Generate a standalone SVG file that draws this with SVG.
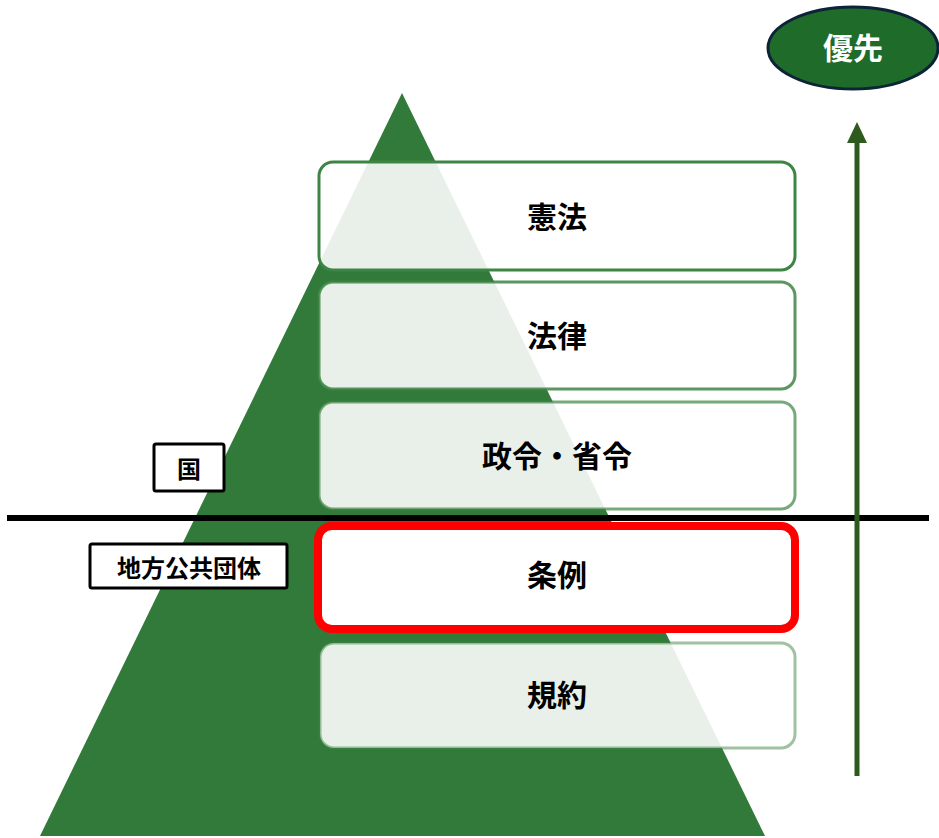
<svg xmlns="http://www.w3.org/2000/svg" width="939" height="838" viewBox="0 0 939 838">
<style>
.lbl{font-family:"Noto Sans CJK JP","Liberation Sans",sans-serif;font-weight:bold;font-size:30px;fill:#000;text-anchor:middle;dominant-baseline:central}
.small{font-family:"Noto Sans CJK JP","Liberation Sans",sans-serif;font-weight:bold;font-size:24px;fill:#000;text-anchor:middle;dominant-baseline:central}
.box{fill:#ffffff;fill-opacity:0.89;stroke:#3e8545;stroke-width:3}
.tag{fill:#fff;stroke:#000;stroke-width:3}
</style>
<rect width="939" height="838" fill="#fff"/>
<g id="pyramid"><polygon points="402,93 40,836 765,836" fill="#317a39"/></g>
<g id="n-kenpo"><rect class="box" x="319" y="162" width="476" height="108" rx="14" stroke-opacity="1"/><text class="lbl" x="557" y="215">憲法</text></g>
<g id="n-horitsu"><rect class="box" x="319" y="282" width="476" height="107" rx="14" stroke-opacity="0.85"/><text class="lbl" x="557" y="334">法律</text></g>
<g id="n-seirei"><rect class="box" x="319" y="402" width="476" height="107" rx="14" stroke-opacity="0.7"/><text class="lbl" x="557" y="454">政令・省令</text></g>
<g id="n-jorei"><rect x="318" y="526" width="477" height="103" rx="14" fill="#fff" stroke="#ff0000" stroke-width="8"/><text class="lbl" x="557" y="573">条例</text></g>
<g id="n-kiyaku"><rect class="box" x="320" y="643" width="475" height="105" rx="14" stroke-opacity="0.5"/><text class="lbl" x="557" y="693">規約</text></g>
<g id="connectors">
<line x1="7" y1="518" x2="929" y2="518" stroke="#000" stroke-width="6"/>
<line x1="857" y1="776" x2="857" y2="140" stroke="#2e5a1e" stroke-width="5"/>
<polygon points="857,122 847,143 867,143" fill="#2e5a1e"/>
</g>
<g id="n-kuni"><rect class="tag" x="154" y="444" width="70" height="47" rx="2"/><text class="small" x="189" y="467">国</text></g>
<g id="n-chiho"><rect class="tag" x="90" y="544" width="197" height="44" rx="2"/><text class="small" x="189" y="566">地方公共団体</text></g>
<g id="n-yusen"><ellipse cx="853" cy="48" rx="85" ry="41" fill="#1e6b2a" stroke="#0d2438" stroke-width="3"/><text class="lbl" x="853" y="46" style="fill:#fff;font-size:30px">優先</text></g>
</svg>
